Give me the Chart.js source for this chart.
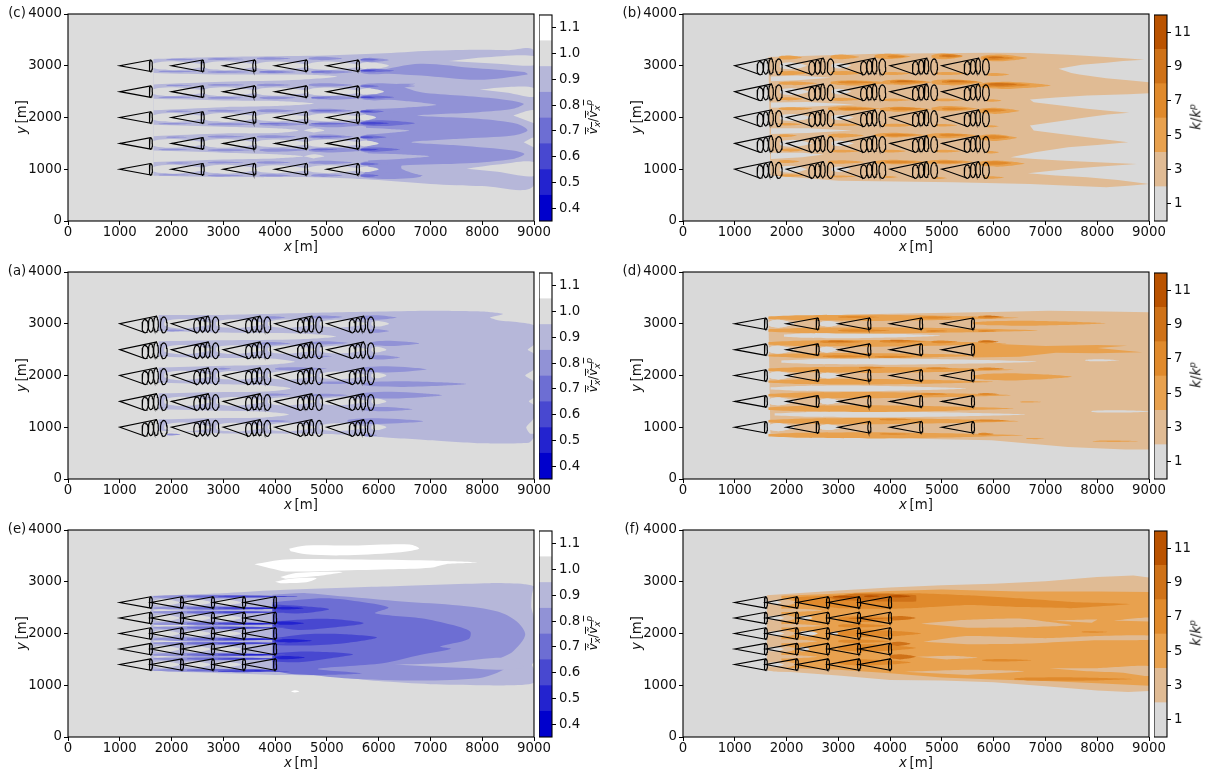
<!DOCTYPE html>
<html>
<head>
<meta charset="utf-8">
<title>Wake contours</title>
<script src="https://cdn.jsdelivr.net/npm/chart.js@4/dist/chart.umd.js"></script>
<style>
  html, body { margin: 0; padding: 0; background: #fff; }
  #page { position: relative; width: 1208px; height: 772px; overflow: hidden; font-family: "DejaVu Sans", sans-serif; color: #111; filter: blur(0.3px); }
  canvas { position: absolute; }
  .lbl { position: absolute; font-size: 13.3px; white-space: nowrap; line-height: 1; transform: translate(-50%, -50%); }
  .rot { transform: translate(-50%, -50%) rotate(-90deg); }
  .lbl sup, .lbl sub { font-size: 9px; line-height: 0; }
  .over { text-decoration: overline; }
  .small { font-size: 12px; }
</style>
</head>
<body>
<div id="page"></div>
<script>
// turbine layout (metres)
const hubsWide = [1000, 2000, 3000, 4000, 5000];
const rowsWide = [3000, 2500, 2000, 1500, 1000];
const hubsNear = [1000, 1600, 2200, 2800, 3400];
const rowsNear = [2600, 2300, 2000, 1700, 1400];
const sweepX = [490, 600, 700, 850];
const sweepMid = [-45, -25, -10, -22];
const sweepHalf = [130, 135, 150, 153];
const sweepWide = [60, 50, 45, 65];

// colour bars
const speedEdges = [0.35, 0.45, 0.55, 0.65, 0.75, 0.85, 0.95, 1.05, 1.15];
const speedTicks = [0.4, 0.5, 0.6, 0.7, 0.8, 0.9, 1.0, 1.1];
const turbEdges = [0, 2, 4, 6, 8, 10, 12];
const turbTicks = [1, 3, 5, 7, 9, 11];
const blues = ["#0000cc", "#2323cf", "#4848d0", "#6d6ed3", "#9192d6", "#b6b7d9", "#dcdcdc", "#ffffff"];
const oranges = ["#d9d9d9", "#e0bb94", "#e8a14e", "#e08a2c", "#cf7218", "#ba5300"];

// ---- panel (c) ----
const cEnv = [[1650,3130],[2500,3160],[3500,3180],[5000,3200],[6000,3235],[7000,3290],[8000,3310],[8500,3300],[9000,3280],[9000,700],[8000,675],[7000,716],[6000,790],[5000,840],[3000,850],[1650,875]];
const cGaps = [
  [[1650,2860],[3000,2830],[4500,2830],[5200,2790],[4500,2730],[3000,2690],[1650,2640]],
  [[1650,2360],[3000,2330],[4000,2320],[4750,2270],[4000,2220],[3000,2200],[1650,2140]],
  [[1650,1860],[3000,1820],[4000,1790],[4450,1750],[4000,1700],[3000,1690],[1650,1640]],
  [[1650,1360],[3000,1320],[4000,1290],[4550,1250],[4000,1210],[3000,1190],[1650,1140]],
  [[4550,1750],[4750,1790],[4950,1750],[4750,1710]],
  [[4550,1250],[4750,1290],[4950,1250],[4750,1210]],
  [[7350,3090],[8000,3160],[9000,3190],[9000,3010],[8300,3040]],
  [[7950,2540],[8500,2590],[9000,2570],[9000,2400],[8500,2480]],
  [[8600,2040],[9000,2140],[9000,1890]],
  [[8800,1520],[9000,1610],[9000,1420]],
  [[7700,1010],[8300,1090],[9000,1140],[9000,870],[8300,950]]
];
const cBody = [[5900,2640],[6707,2651],[6485,2600],[6818,2490],[7558,2425],[8297,2361],[8800,2264],[8593,2167],[7927,2103],[6744,2038],[7927,1974],[8667,1877],[8874,1748],[8593,1651],[7558,1587],[6633,1522],[7558,1458],[8593,1361],[8815,1296],[8593,1200],[7705,1116],[6448,1071],[6448,1006],[6818,858],[6079,813],[5709,909],[5800,1000],[5750,2000],[5800,2500]];
const cBand = [[5950,2900],[6800,3040],[7900,2950],[8815,2877],[8874,2831],[7927,2728],[6818,2812],[6000,2857]];
const cTongues = [
  [[5700,2370],[6500,2320],[7114,2245],[6500,2190],[5700,2160]],
  [[5700,1800],[6200,1780],[6596,1748],[6200,1700],[5700,1660]],
  [[5700,1310],[6400,1290],[6981,1251],[6400,1200],[5700,1170]]
];
const cCores = [
  [1620,2700,3000,85],[2620,3700,3000,85],[3620,4700,3000,80],[4620,5700,3000,80],[5620,6200,3000,70],
  [1620,2700,2500,85],[2620,3700,2500,85],[3620,4700,2500,80],[4620,5700,2500,80],[5620,6100,2500,65],
  [1620,2700,2000,85],[2620,3700,2000,85],[3620,4700,2000,75],[4620,5700,2000,75],[5620,5950,2000,55],
  [1620,2700,1500,85],[2620,3700,1500,85],[3620,4700,1500,75],[4620,5700,1500,75],[5620,6000,1500,55],
  [1620,2700,1000,85],[2620,3700,1000,85],[3620,4700,1000,75],[4620,5700,1000,75],[5620,6000,1000,55]
];
const cStreak08 = [
  [1900,2500,3120,14],[2700,3400,3130,18],[3650,4300,3140,24],[4650,5300,3140,32],[5650,6200,3110,42],
  [1750,2500,2890,14],[2700,3500,2880,20],[3700,4400,2880,26],[4700,5500,2880,34],[5650,6350,2890,55],
  [1900,2400,2620,14],[2700,3400,2630,18],[3650,4300,2630,24],[4650,5500,2630,32],[5650,6700,2610,50],
  [1750,2500,2390,14],[2700,3400,2380,20],[3700,4400,2380,26],[4700,5700,2380,36],[5650,6350,2390,60],
  [1900,2400,2120,14],[2700,3400,2130,20],[3650,4400,2130,28],[4650,5500,2130,40],[5650,6400,2110,50],
  [1750,2400,1880,14],[2700,3600,1870,22],[3700,4600,1870,32],[4650,5800,1860,50],[5650,6750,1880,80],
  [1900,2300,1620,14],[2700,3400,1630,20],[3650,4400,1630,28],[4650,5500,1630,40],[5650,6350,1620,50],
  [1750,2400,1380,14],[2700,3600,1370,22],[3700,4600,1370,32],[4650,5800,1370,46],[5650,6500,1380,70],
  [1900,2400,1120,14],[2700,3400,1130,18],[3650,4300,1130,24],[4650,5500,1130,32],[5650,6200,1110,42],
  [1750,2350,890,13],[2700,3400,880,18],[3700,4300,880,22],[4700,5300,880,28],[5650,6850,880,60]
];
const cStreak07 = [
  [5650,6000,3120,20],[5650,6300,2905,30],[5650,6000,2606,20],[5650,6300,2393,30],[5650,6100,2115,30],
  [5650,6700,1890,55],[5650,6150,1620,30],[5650,6410,1380,40],[5650,6000,1103,25],[5650,6000,877,25],
  [4700,5300,2130,14],[4700,5300,1630,14],[4700,5100,2880,12],[4700,5400,1880,20],[4700,5200,1380,16],[3700,4300,1880,10],[3700,4200,2880,10],[4700,5100,2380,12]
];
const cStreak06 = [[5650,6200,1890,25],[5650,6000,1380,18],[5650,5950,2390,14],[5650,5950,2905,13],[5650,5900,1620,12],[5650,5900,2120,12]];

// ---- panel (a) ----
const aEnv = [[1750,3170],[3000,3170],[5000,3215],[7000,3250],[8000,3236],[8400,3190],[8150,3120],[8300,3070],[9000,2970],[9000,2600],[8880,2500],[9000,2420],[9000,2120],[8830,2000],[9000,1880],[9000,1580],[8900,1500],[9000,1430],[9000,1180],[8850,1000],[8920,880],[9000,870],[9000,800],[8900,700],[8000,690],[7000,750],[6000,813],[5000,870],[3000,880],[1750,930]];
const aGaps = [
  [[1650,2860],[3000,2830],[4500,2810],[5176,2752],[4500,2700],[3000,2680],[1650,2660]],
  [[1650,2360],[3000,2340],[3900,2330],[4378,2267],[3900,2210],[3000,2190],[1650,2150]],
  [[1650,1860],[3000,1830],[3800,1810],[4300,1750],[3800,1690],[3000,1680],[1650,1650]],
  [[1650,1350],[3000,1320],[3800,1300],[4267,1247],[3800,1190],[3000,1180],[1650,1150]]
];
const aCores = [
  [1860,2800,3000,90],[2860,3800,3000,85],[3860,4800,3000,80],[4860,5800,3000,75],[5860,6200,3000,55],
  [1860,2800,2500,90],[2860,3800,2500,85],[3860,4800,2500,80],[4860,5800,2500,75],[5860,6150,2500,55],
  [1860,2800,2000,90],[2860,3800,2000,85],[3860,4800,2000,80],[4860,5800,2000,75],[5860,6150,2000,55],
  [1860,2800,1500,90],[2860,3800,1500,85],[3860,4800,1500,80],[4860,5800,1500,75],[5860,6150,1500,55],
  [1860,2800,1000,90],[2860,3800,1000,85],[3860,4800,1000,80],[4860,5800,1000,75],[5860,6150,1000,55]
];
const aStreak08 = [
  [3800,4200,3120,25],[4700,5300,3130,30],[5650,6350,3120,45],[1900,2250,2870,20],[5800,6200,2860,35],
  [3700,4300,2620,25],[4700,5400,2630,30],[5850,6780,2620,50],[5780,6410,2350,40],[4700,5100,2370,18],
  [2900,3150,2130,18],[4000,5000,2130,30],[5650,6930,2120,60],[4800,5700,1860,25],[5700,7690,1835,55],
  [3800,4300,1630,22],[4700,5400,1620,28],[5600,7225,1620,65],[5700,6650,1350,40],
  [3800,4300,1120,20],[5400,6860,1118,55],[5700,5970,845,25],[1900,2170,860,20]
];

// ---- panel (e) ----
const eEnv = [[1600,2730],[2970,2780],[4000,2838],[6080,2909],[8150,2973],[8815,2954],[9000,2909],[8960,2750],[8950,2500],[9000,2300],[9000,1450],[8960,1400],[9000,1300],[9000,1050],[8500,1000],[8000,1000],[7000,1020],[6000,1080],[5000,1180],[4000,1200],[3000,1230],[1600,1280]];
const eWhite = [
  [[4270,3640],[4600,3700],[5500,3700],[6600,3720],[6780,3640],[6300,3560],[5300,3510],[4600,3530],[4300,3590]],
  [[3600,3340],[4200,3430],[5500,3430],[7000,3410],[7900,3370],[7300,3340],[7000,3270],[6200,3240],[5000,3210],[4200,3200],[3900,3260]],
  [[4100,3090],[4400,3170],[5300,3190],[4800,3110],[4200,3060]],
  [[4000,3000],[4300,3060],[4800,3070],[4600,2990],[4100,2970]],
  [[4300,880],[4380,905],[4470,880],[4380,860]]
];
const eBody08 = [[3950,2748],[4600,2780],[5339,2715],[6448,2619],[7558,2541],[8297,2425],[8667,2232],[8830,1974],[8593,1651],[8268,1458],[8450,1350],[8268,1232],[7927,1135],[6818,1090],[5339,1135],[4452,1232],[3950,1270]];
const eTongue = [[6300,1400],[7300,1430],[8268,1530],[8593,1500],[8800,1350],[8300,1300],[7800,1330],[7300,1350]];
const eBody07 = [[3950,2606],[4970,2683],[5709,2606],[6190,2503],[5931,2393],[6818,2296],[7410,2167],[7765,2038],[7742,1896],[7188,1748],[7395,1703],[6818,1587],[6079,1425],[4822,1316],[5672,1232],[4970,1200],[4378,1213],[3950,1277]];
const eLobes06 = [
  [[3950,2560],[4500,2530],[5043,2470],[4500,2390],[3950,2400]],
  [[3950,2232],[4970,2283],[5709,2199],[4970,2103],[4452,2070],[3950,2135]],
  [[3950,1909],[4600,1987],[5339,1987],[5968,1922],[5339,1812],[4600,1767],[3950,1780]],
  [[3950,1619],[4600,1651],[5502,1600],[4970,1509],[4452,1445],[3950,1458]]
];
const eCores = [
  [1650,2170,2600,65],[2250,2770,2600,60],[2850,3350,2600,55],
  [1650,2170,2300,65],[2250,2770,2300,60],[2850,3350,2300,55],
  [1650,2170,2000,65],[2250,2770,2000,60],[2850,3350,2000,55],
  [1650,2170,1700,65],[2250,2770,1700,60],[2850,3350,1700,55],
  [1650,2170,1400,65],[2250,2770,1400,60],[2850,3350,1400,55],
  [1650,2500,2450,22],[1650,2500,2150,22],[1650,2400,1850,22],[1650,2400,1550,22]
];
const eStreak08 = [
  [1650,4100,2710,32],[1650,4100,2490,35],[1650,4100,2410,32],[1650,4100,2190,35],[1650,4100,2110,32],
  [1650,4100,1890,35],[1650,4100,1810,32],[1650,4100,1590,35],[1650,4100,1510,32],[1650,4100,1290,30]
];
const eStreak07 = [
  [2300,4400,2715,24],[2300,4200,2490,28],[2300,4200,2410,24],[2300,4200,2190,28],[2300,4200,2110,24],
  [2300,4200,1890,28],[2300,4200,1810,24],[2300,4200,1590,28],[2300,4200,1510,24],[2300,4300,1290,24]
];
const eStreak06 = [
  [2900,4450,2715,16],[2900,4200,2490,20],[2900,4200,2410,16],[2900,4200,2190,20],[2900,4200,2110,16],
  [2900,4200,1890,20],[2900,4200,1810,16],[2900,4200,1590,20],[2900,4200,1510,16],[2900,4300,1270,18]
];
const eStreak05 = [
  [4000,4550,2490,28],[4000,4560,2200,32],[4000,4710,1860,32],[4000,4580,1535,32],
  [3400,4000,2480,10],[3400,4000,2190,12],[3400,4000,1890,12],[3400,4000,1590,12],[3400,4000,1290,9]
];

// ---- panel (b) ----
const bEnv = [[1650,3167],[3750,3231],[5962,3250],[6700,3245],[7436,3212],[8173,3167],[8600,3140],[8910,3115],[8500,3090],[8173,3060],[7700,3020],[7252,2941],[7500,2860],[7657,2832],[8173,2760],[8600,2720],[9000,2683],[9000,2470],[8600,2450],[7805,2425],[7200,2385],[6700,2348],[6773,2296],[7300,2230],[7805,2167],[8200,2130],[8615,2090],[8200,2060],[7805,2006],[7200,1920],[6700,1845],[6773,1748],[7300,1680],[7805,1619],[8200,1570],[8600,1522],[8000,1470],[7436,1425],[6800,1330],[6330,1232],[6800,1200],[7289,1167],[8000,1135],[8763,1103],[8000,1050],[7436,1006],[6662,922],[7200,880],[7805,845],[8400,790],[9000,716],[8600,680],[8173,651],[6700,716],[5225,748],[3014,780],[1688,877]];
const bGaps = [
  [[1700,2790],[2200,2810],[2867,2767],[2200,2720],[1700,2700]],
  [[1700,2290],[2400,2300],[3310,2251],[2400,2210],[1700,2190]],
  [[1700,1790],[2400,1790],[3272,1748],[2400,1700],[1700,1680]],
  [[1700,1320],[2300,1320],[2720,1283],[2300,1230],[1700,1200]]
];
const bCores = [
  [1870,2400,3000,70],[2870,3250,3000,55],[1870,2450,2500,70],[2870,3250,2500,55],
  [1870,2500,2000,70],[2870,3300,2000,55],[1870,2500,1500,70],[2870,3300,1500,55],[1870,2400,1000,70],[2870,3250,1000,55]
];
const bStreak5 = [
  [1850,2300,3160,40],[2850,3400,3170,45],[3700,4400,3180,50],[4800,5400,3180,55],[5750,6650,3150,65],
  [1850,2450,2860,40],[2850,3500,2860,40],[3850,4400,2850,30],[4850,5500,2850,30],[5850,6300,2830,30],
  [1850,2600,2660,35],[2850,4000,2670,50],[3850,4800,2680,55],[4800,5800,2680,60],[5700,7100,2620,70],
  [1850,2350,2360,30],[2850,3450,2350,30],[3850,4400,2340,25],[4850,5400,2340,25],[5850,6150,2330,25],
  [1850,2500,2170,30],[2800,3800,2170,45],[3800,4800,2160,50],[4800,5700,2170,50],[5700,6500,2130,60],
  [1850,2300,1870,25],[2850,3500,1860,25],[3850,4500,1850,30],[4850,5300,1850,25],[5850,6100,1830,20],
  [1850,2200,1650,25],[2800,3500,1650,40],[3700,4700,1660,45],[4700,5700,1650,50],[5700,6450,1610,65],
  [1900,2350,1370,30],[2850,3400,1350,25],[3850,4300,1350,25],[4850,5350,1350,25],[5850,6100,1330,25],
  [1850,2250,1150,30],[2800,3500,1140,35],[3700,4700,1140,45],[4700,5600,1140,45],[5700,6600,1110,60],
  [1850,2400,880,25],[2850,3350,860,20],[3850,4150,850,20],[4800,5100,830,20],[5800,6200,840,25]
];
const bStreak7 = [
  [3950,4300,3180,25],[4950,5400,3190,35],[5800,6400,3150,40],
  [3000,3700,2680,25],[4000,4700,2690,35],[5000,5700,2690,35],[5800,6700,2630,45],
  [3000,3700,2170,25],[4000,4600,2170,30],[5000,5500,2170,25],[5800,6250,2140,30],
  [3900,4500,1660,25],[4950,5500,1660,25],[5800,6300,1620,35],
  [3900,4500,1140,25],[4900,5400,1140,25],[5800,6350,1120,35]
];
const bStreak9 = [[5000,5300,3190,15],[5900,6200,3160,20],[4100,4500,2700,15],[5100,5500,2700,15],[5900,6450,2640,25]];

// ---- panel (d) ----
const dEnv = [[1650,3120],[3750,3190],[5960,3225],[7070,3250],[8170,3235],[9000,3220],[9000,570],[8540,570],[7436,620],[5960,750],[4490,780],[3014,815],[1688,880]];
const dGaps = [
  [1950,4970,2770,50],[1900,6830,2268,60],[1690,5480,1750,55],[1770,6625,1247,55],
  [7770,8430,2293,20],[7890,9100,1305,22],
  [1650,2150,3000,75],[2650,3050,3000,55],[1650,2150,2500,75],[2650,3000,2500,55],
  [1650,2150,2000,75],[2650,3050,2000,55],[1650,2150,1500,75],[2650,3050,1500,55],[1650,2150,1000,75],[2650,3050,1000,55]
];
const dZone5 = [[5600,2640],[6300,2600],[7000,2570],[8000,2590],[8580,2577],[8000,2530],[8870,2450],[8000,2430],[7200,2440],[6500,2360],[5600,2350]];
const dStreak5 = [
  [1650,6500,3115,60],[1650,6850,2870,60],[5600,8170,3010,50],
  [1650,6260,2620,65],[1650,6000,2385,50],
  [1650,6400,2110,60],[1650,6000,1880,55],[5600,7510,1975,70],
  [1650,6330,1620,60],[1650,6400,1360,65],[6515,6920,1490,14],
  [1650,6480,1118,60],[1650,6590,845,60],[6625,6995,782,12],[7915,8800,730,14]
];
const dStreak7 = [
  [3000,3800,3130,20],[4600,5200,3120,25],[5700,6200,3130,30],[3000,4000,2870,25],[4700,5100,2860,20],[5700,6050,2860,20],
  [2650,3500,2650,30],[3800,4700,2660,30],[4800,5300,2650,25],[5700,6100,2650,30],[2700,3700,2370,20],[3700,4500,2360,20],
  [3400,3900,2150,20],[4700,5200,2140,20],[5700,6200,2130,25],[4600,5100,1640,20],[5700,6100,1640,20],
  [3800,4400,1150,20],[5600,6300,1130,20],[5700,6000,870,25],[3800,4400,870,15]
];
const dStreak9 = [[2800,3300,2660,12],[4000,4400,2670,12],[5750,6100,2660,15],[5800,6100,3140,15]];

// ---- panel (f) ----
const fEnv = [[1620,2740],[3000,2830],[4000,2890],[5000,2930],[6000,2960],[7000,3010],[8000,3090],[8700,3120],[9000,3080],[9000,890],[8600,870],[8000,900],[7000,980],[6000,1060],[5000,1090],[4000,1100],[3000,1190],[1620,1290]];
const fBody5 = [[1900,2730],[2700,2760],[4000,2820],[5000,2850],[6500,2810],[8000,2810],[9000,2800],[9000,990],[8000,1040],[7000,1080],[6000,1110],[5000,1150],[4000,1230],[3000,1300],[1900,1340]];
const fHoles3 = [
  [[4600,2190],[5400,2260],[6500,2290],[7000,2230],[7500,2160],[6500,2120],[5500,2110]],
  [[4640,1840],[5500,1950],[7000,1910],[8000,1950],[9000,1960],[9000,1880],[8000,1870],[6500,1800],[5500,1790]],
  [[4500,1550],[5200,1570],[5700,1530],[5100,1500]],
  [[4270,1260],[5500,1300],[6600,1270],[5500,1200]],
  [[7070,1330],[8000,1330],[9000,1370],[9000,1180],[8500,1240],[7800,1270]],
  [[7100,2250],[8000,2270],[7900,2210]],
  [[8300,2250],[9000,2310],[9000,2230]]
];
const fTurbine3 = [
  [1650,2700,2450,35],[1650,2700,2150,35],[1650,2600,1850,40],[1650,2600,1550,35],[1650,2500,1290,30],
  [1650,2200,2600,75],[1650,2200,2300,75],[1650,2200,2000,75],[1650,2200,1700,75],[1650,2200,1400,75]
];
const fGrayCores = [
  [2250,2500,2300,45],[2250,2600,2000,55],[2250,2450,1700,45],[2850,3000,2000,35],[1640,1950,2000,45],[1640,1950,2300,45],[1640,1950,1700,45],[1640,1950,1400,45],[1640,1900,2600,40]
];
const fBand7 = [[2100,2700],[3000,2740],[4500,2780],[5500,2740],[6500,2680],[7500,2610],[8650,2570],[7500,2490],[6500,2510],[5500,2550],[4600,2500],[4000,2480],[3000,2490],[2200,2600]];
const fStreak7 = [
  [3000,4400,2280,60],[3000,4600,2000,70],[3000,4500,1720,70],[3000,4400,1440,60],
  [6400,8700,1120,35],[5780,6740,1483,25],[7700,8200,2030,15],[3000,4000,2150,35],[3000,4000,1850,35]
];
const fBand9 = [[2800,2700],[3300,2770],[4000,2770],[4500,2740],[4500,2620],[3900,2620],[3000,2640]];
const fStreak9 = [[4000,4500,2300,40],[4000,4400,1800,40],[4000,4500,1550,50],[3200,4000,2290,15]];
const fStreak11 = [[2900,3400,2710,20],[3500,3800,2720,20],[4000,4400,2720,25]];

// colour-level helpers
const domain = [[0, 0], [9000, 0], [9000, 4000], [0, 4000]];

function spindle(s) {
  const [x0, x1, y, h] = s;
  const len = x1 - x0;
  return [[x0, y + 0.4 * h], [x0 + 0.12 * len, y + 0.8 * h], [x0 + 0.4 * len, y + h], [x0 + 0.75 * len, y + 0.6 * h], [x1, y],
    [x0 + 0.75 * len, y - 0.6 * h], [x0 + 0.4 * len, y - h], [x0 + 0.12 * len, y - 0.8 * h], [x0, y - 0.4 * h]];
}

function shape(points, color, tension) {
  return { data: points, showLine: true, fill: "shape", backgroundColor: color, borderWidth: 0, pointRadius: 0, tension: tension };
}

function shapes(list, color, tension) {
  return list.map((p) => shape(p, color, tension));
}

function streaks(list, color, tension) {
  return list.map((s) => shape(spindle(s), color, tension));
}

function outline(points) {
  return { data: points, showLine: true, fill: false, borderColor: "#000", borderWidth: 1.15, pointRadius: 0, tension: 0 };
}

function ellipse(cx, cy, a, b) {
  const pts = [];
  for (let i = 0; i <= 20; i++) {
    const t = (i / 20) * 2 * Math.PI;
    pts.push([cx + a * Math.cos(t), cy + b * Math.sin(t)]);
  }
  return pts;
}

function plainTurbines(hubs, rows) {
  const out = [];
  rows.forEach((y) => hubs.forEach((x) => {
    out.push(outline([[x + 600, y + 110], [x, y], [x + 600, y - 110]]));
    out.push(outline(ellipse(x + 600, y, 30, 110)));
  }));
  return out;
}

function sweptTurbines(hubs, rows) {
  const out = [];
  rows.forEach((y) => hubs.forEach((x) => {
    out.push(outline([[x + 720, y + 150], [x, y], [x + 480, y - 170]]));
    sweepX.forEach((dx, i) => out.push(outline(ellipse(x + dx, y + sweepMid[i], sweepWide[i], sweepHalf[i]))));
  }));
  return out;
}

const B = blues, O = oranges;
const panels = [
  { tag: "(c)", left: 68, top: 14, bars: "speed", marks: [
    shape(domain, B[6], 0), shape(cEnv, B[5], 0.3), ...shapes(cGaps, B[6], 0.3), shape(cBody, B[4], 0.3), shape(cBand, B[4], 0.3),
    ...shapes(cTongues, B[5], 0.3), ...streaks(cCores, B[6], 0.3), ...streaks(cStreak08, B[4], 0.3), ...streaks(cStreak07, B[3], 0.3), ...streaks(cStreak06, B[2], 0.3),
    ...plainTurbines(hubsWide, rowsWide)] },
  { tag: "(b)", left: 683, top: 14, bars: "turb", marks: [
    shape(domain, O[0], 0), shape(bEnv, O[1], 0), ...shapes(bGaps, O[0], 0), ...streaks(bCores, O[0], 0),
    ...streaks(bStreak5, O[2], 0.2), ...streaks(bStreak7, O[3], 0.2), ...streaks(bStreak9, O[4], 0.2),
    ...sweptTurbines(hubsWide, rowsWide)] },
  { tag: "(a)", left: 68, top: 272, bars: "speed", marks: [
    shape(domain, B[6], 0), shape(aEnv, B[5], 0.2), ...shapes(aGaps, B[6], 0.3), ...streaks(aCores, B[6], 0.3), ...streaks(aStreak08, B[4], 0.3),
    ...sweptTurbines(hubsWide, rowsWide)] },
  { tag: "(d)", left: 683, top: 272, bars: "turb", marks: [
    shape(domain, O[0], 0), shape(dEnv, O[1], 0), ...streaks(dGaps, O[0], 0.2), shape(dZone5, O[2], 0),
    ...streaks(dStreak5, O[2], 0.2), ...streaks(dGaps.slice(6), O[0], 0.2), ...streaks(dStreak7, O[3], 0.2), ...streaks(dStreak9, O[4], 0.2),
    ...plainTurbines(hubsWide, rowsWide)] },
  { tag: "(e)", left: 68, top: 530, bars: "speed", marks: [
    shape(domain, B[6], 0), ...shapes(eWhite, B[7], 0.3), shape(eEnv, B[5], 0.25), ...streaks(eCores, B[6], 0.3),
    ...streaks(eStreak08, B[4], 0.3), shape(eBody08, B[4], 0.3), shape(eTongue, B[5], 0.3), shape(eBody07, B[3], 0.3),
    ...shapes(eLobes06, B[2], 0.3), ...streaks(eStreak07, B[3], 0.3), ...streaks(eStreak06, B[2], 0.3), ...streaks(eStreak05, B[1], 0.3),
    ...plainTurbines(hubsNear, rowsNear)] },
  { tag: "(f)", left: 683, top: 530, bars: "turb", marks: [
    shape(domain, O[0], 0), shape(fEnv, O[1], 0), shape(fBody5, O[2], 0), ...shapes(fHoles3, O[1], 0.2), ...streaks(fTurbine3, O[1], 0.2), ...streaks(fGrayCores, O[0], 0.2),
    shape(fBand7, O[3], 0.1), ...streaks(fStreak7, O[3], 0.2), shape(fBand9, O[4], 0.1), ...streaks(fStreak9, O[4], 0.2), ...streaks(fStreak11, O[5], 0.2),
    ...plainTurbines(hubsNear, rowsNear)] }
];

const tickFont = { family: "'DejaVu Sans'", size: 13.3 };
const tickStyle = { drawOnChartArea: false, tickLength: 4, tickColor: "#000", tickWidth: 1 };

const framePlugin = {
  id: "frame",
  afterDraw(chart) {
    const a = chart.chartArea;
    const ctx = chart.ctx;
    ctx.save();
    ctx.strokeStyle = "#000";
    ctx.lineWidth = 1.1;
    ctx.strokeRect(a.left, a.top, a.right - a.left, a.bottom - a.top);
    ctx.restore();
  },
};

const page = document.getElementById("page");

function addCanvas(left, top, w, h) {
  const c = document.createElement("canvas");
  c.width = w;
  c.height = h;
  c.style.left = left + "px";
  c.style.top = top + "px";
  c.style.width = w + "px";
  c.style.height = h + "px";
  page.appendChild(c);
  return c;
}

function addLabel(html, x, y, rotated) {
  const d = document.createElement("div");
  d.className = rotated ? "lbl rot" : "lbl";
  d.innerHTML = html;
  d.style.left = x + "px";
  d.style.top = y + "px";
  page.appendChild(d);
  return d;
}

function drawPanel(p) {
  const w = 466;
  const canvas = addCanvas(p.left - 60, p.top - 10, 60 + w + 22, 10 + 207 + 40);
  new Chart(canvas, {
    type: "scatter",
    data: { datasets: p.marks.slice().reverse() },
    options: {
      responsive: false,
      animation: false,
      events: [],
      layout: { autoPadding: false, padding: { top: 10, right: 22, left: 0, bottom: 0 } },
      plugins: { legend: { display: false }, tooltip: { enabled: false } },
      scales: {
        x: {
          type: "linear", min: 0, max: 9000,
          ticks: { stepSize: 1000, font: tickFont, color: "#111", maxRotation: 0, autoSkip: false, padding: 0, callback: (v) => String(v) },
          grid: tickStyle, border: { display: false },
          afterFit(s) { s.height = 40; },
        },
        y: {
          type: "linear", min: 0, max: 4000,
          ticks: { stepSize: 1000, font: tickFont, color: "#111", padding: 2, callback: (v) => String(v) },
          grid: tickStyle, border: { display: false },
          afterFit(s) { s.width = 60; },
        },
      },
    },
    plugins: [framePlugin],
  });
  addLabel("<i>x</i>&#8201;[m]", p.left + w / 2, p.top + 233);
  addLabel("<i>y</i>&#8201;[m]", p.left - 46, p.top + 103, true);
  addLabel(p.tag, p.left - 51, p.top - 1);
}

function drawBar(p) {
  const isSpeed = p.bars === "speed";
  const edges = isSpeed ? speedEdges : turbEdges;
  const ticks = isSpeed ? speedTicks : turbTicks;
  const colors = isSpeed ? blues : oranges;
  const left = p.left + 471;
  const canvas = addCanvas(left, p.top - 10, 60, 10 + 207 + 12);
  new Chart(canvas, {
    type: "bar",
    data: {
      labels: ["level"],
      datasets: colors.map((color, i) => ({
        data: [[edges[i], edges[i + 1]]], backgroundColor: color, borderWidth: 0, barPercentage: 1, categoryPercentage: 1,
        grouped: false,
      })),
    },
    options: {
      responsive: false,
      animation: false,
      events: [],
      layout: { autoPadding: false, padding: { top: 10, bottom: 12 } },
      plugins: { legend: { display: false }, tooltip: { enabled: false } },
      scales: {
        x: { display: false, offset: true, grid: { display: false } },
        y: {
          position: "right", min: edges[0], max: edges[edges.length - 1],
          afterBuildTicks(s) { s.ticks = ticks.map((value) => ({ value })); },
          ticks: { font: tickFont, color: "#111", padding: 3, callback: (v) => (isSpeed ? v.toFixed(1) : String(v)) },
          grid: tickStyle, border: { display: false },
          afterFit(s) { s.width = 47; },
        },
      },
    },
    plugins: [framePlugin],
  });
  if (isSpeed) {
    const d = addLabel('<span class="over"><i>&#7805;<sub>x</sub></i></span>/<span class="over"><i>&#7805;<sub>x</sub><sup>p</sup></i></span>', p.left + 525, p.top + 103, true);
    d.classList.add("small");
  } else {
    addLabel("<i>k</i>/<i>k<sup>p</sup></i>", p.left + 513, p.top + 103, true);
  }
}

panels.forEach((p) => {
  drawPanel(p);
  drawBar(p);
});
</script>
</body>
</html>
